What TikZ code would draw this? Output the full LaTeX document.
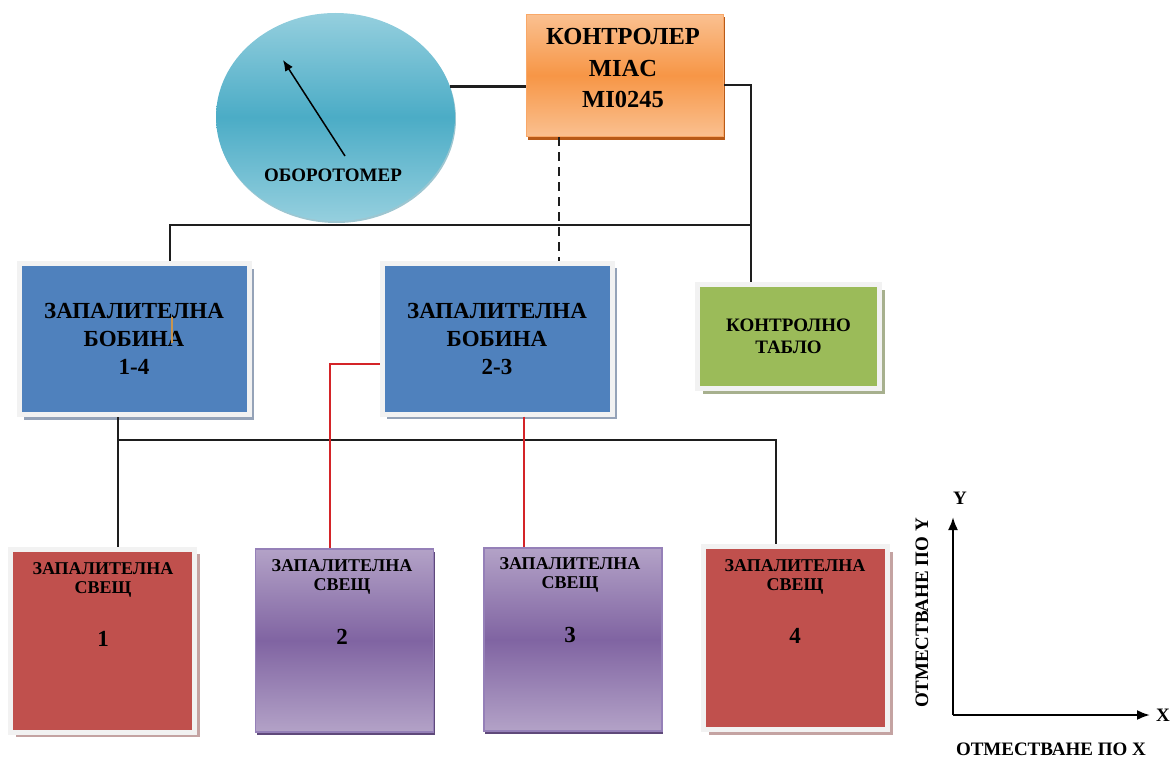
\documentclass[tikz,border=0pt]{standalone}
\usepackage{fontspec}
\setmainfont{Liberation Serif}
\usetikzlibrary{shapes.geometric,shadows,arrows.meta,calc}
\definecolor{coilblue}{HTML}{4F81BD}
\definecolor{edgegray}{HTML}{F2F2F2}
\definecolor{coilshadow}{HTML}{95A3B8}
\definecolor{tablegreen}{HTML}{9BBB59}
\definecolor{tableshadow}{HTML}{A7B08E}
\definecolor{sparkred}{HTML}{C0504D}
\definecolor{redshadow}{HTML}{C4A3A2}
\definecolor{purplelight}{HTML}{B3A2C7}
\definecolor{purplemid}{HTML}{8064A2}
\definecolor{purpleedge}{HTML}{9580B8}
\definecolor{purpleshadow}{HTML}{5F497A}
\definecolor{orangelight}{HTML}{FAC090}
\definecolor{orangemid}{HTML}{F79646}
\definecolor{orangeedge}{HTML}{F9A868}
\definecolor{orangeshadow}{HTML}{B85A18}
\definecolor{teallight}{HTML}{95CFDE}
\definecolor{tealmid}{HTML}{4BACC6}
\definecolor{tealshadow}{HTML}{3C8EA3}
\definecolor{wirered}{HTML}{D42428}
\definecolor{wireblack}{HTML}{1E1E1E}
\definecolor{cursorbrown}{HTML}{C8954F}
\begin{document}
\begin{tikzpicture}[x=1pt,y=-1pt,
  box/.style={rectangle, inner sep=0pt, align=center, font=\bfseries},
  coil/.style={box, fill=coilblue, draw=edgegray, line width=5pt,
    minimum width=230pt, minimum height=151pt,
    drop shadow={shadow xshift=5pt, shadow yshift=-5pt, fill=coilshadow, opacity=1},
    font=\bfseries\fontsize{23}{28}\selectfont},
  ctrlbox/.style={box, top color=orangelight, bottom color=orangelight, middle color=orangemid,
    draw=orangeedge, line width=1pt, minimum width=197pt, minimum height=122pt,
    drop shadow={shadow xshift=1pt, shadow yshift=-3pt, fill=orangeshadow, opacity=1}},
  tablebox/.style={box, fill=tablegreen, draw=edgegray, line width=5pt,
    minimum width=182pt, minimum height=104pt,
    drop shadow={shadow xshift=5pt, shadow yshift=-5pt, fill=tableshadow, opacity=1},
    font=\bfseries\fontsize{19}{22}\selectfont},
  redspark/.style={box, fill=sparkred, draw=edgegray, line width=5pt,
    minimum width=184pt, minimum height=183pt,
    drop shadow={shadow xshift=5pt, shadow yshift=-5pt, fill=redshadow, opacity=1}},
  purplespark/.style={box, top color=purplelight, bottom color=purplelight, middle color=purplemid,
    draw=purpleedge, line width=1.5pt, minimum width=178pt, minimum height=183pt,
    drop shadow={shadow xshift=1pt, shadow yshift=-3pt, fill=purpleshadow, opacity=1}},
  gauge/.style={ellipse, inner sep=0pt, minimum width=239pt, minimum height=208pt,
    top color=teallight, bottom color=teallight, middle color=tealmid,
    drop shadow={shadow xshift=1pt, shadow yshift=-2pt, fill=tealshadow, opacity=0.5}},
  sparktxt/.style={font=\bfseries\fontsize{18}{19}\selectfont, align=center, inner sep=0pt},
  numtxt/.style={font=\bfseries\fontsize{23}{24}\selectfont, inner sep=0pt},
  lbl/.style={font=\bfseries\fontsize{19}{22}\selectfont, inner sep=0pt},
  ctrltxt/.style={font=\bfseries\fontsize{24.5}{31.5}\selectfont, align=center, inner sep=0pt},
  conn/.style={draw=wireblack, line width=2.4pt},
  redconn/.style={draw=wirered, line width=2.2pt},
  axis/.style={draw=black, line width=2.2pt, -{Latex[length=13pt,width=10pt]}}
]
\useasboundingbox (0,0) rectangle (1172,760);

% gauge
\node[gauge] (oe) at (335.5,117) {};
\coordinate (needleBase) at (345,156);
\coordinate (needleTip) at (283,60);
\draw[line width=1.5pt, -{Latex[length=11pt,width=9pt]}] (needleBase) -- (needleTip);
\node[lbl] (oet) at (333,175) {ОБОРОТОМЕР};

% controller
\node[ctrlbox] (ctrl) at (625,75.5) {};
\node[ctrltxt] (ctrlt) at (623,68.5) {КОНТРОЛЕР\\MIAC\\MI0245};

% coils
\node[coil] (c14) at (134,339) {ЗАПАЛИТЕЛНА\\БОБИНА\\1-4};
\node[coil] (c23) at (497,338.5) {ЗАПАЛИТЕЛНА\\БОБИНА\\2-3};
\coordinate (curA) at (172,317);
\coordinate (curB) at (172,343);
\draw[draw=cursorbrown, line width=2pt] (curA) -- (curB);

% control table
\node[tablebox] (tab) at (788.5,336.5) {КОНТРОЛНО\\ТАБЛО};

% spark plugs
\node[redspark] (s1) at (102.5,640.5) {};
\node[purplespark] (s2) at (344.5,640.5) {};
\node[purplespark] (s3) at (573,639.5) {};
\node[redspark] (s4) at (795.5,638) {};
\node[sparktxt] (s1t) at (103,579.5) {ЗАПАЛИТЕЛНА\\СВЕЩ};
\node[numtxt] (s1n) at (103,639) {1};
\node[sparktxt] (s2t) at (342,577) {ЗАПАЛИТЕЛНА\\СВЕЩ};
\node[numtxt] (s2n) at (342,637) {2};
\node[sparktxt] (s3t) at (570,575) {ЗАПАЛИТЕЛНА\\СВЕЩ};
\node[numtxt] (s3n) at (570,635) {3};
\node[sparktxt] (s4t) at (795,577) {ЗАПАЛИТЕЛНА\\СВЕЩ};
\node[numtxt] (s4n) at (795,636) {4};

% connectors top
\coordinate (rj) at (751,85);
\coordinate (hj) at (751,225);
\coordinate (t1) at (170,225);
\coordinate (dj) at (559,0);
\draw[conn] (oe.15.7) -- (ctrl.west |- oe.15.7);
\draw[conn] (ctrl.east |- rj) -- (rj) -- (rj |- tab.north);
\draw[conn] (hj) -- (t1) -- (t1 |- c14.north);
\draw[conn, line width=2.2pt, dash pattern=on 9pt off 6pt] (dj |- ctrl.south) -- (dj |- c23.north);

% connectors bottom
\coordinate (bl) at (118,440);
\coordinate (br) at (776,440);
\draw[conn] (bl |- c14.south) -- (bl |- s1.north);
\draw[conn] (bl) -- (br) -- (br |- s4.north);
\coordinate (rl) at (330,364);
\coordinate (rr) at (524,0);
\draw[redconn] (c23.west |- rl) -- (rl) -- (rl |- s2.north);
\draw[redconn] (rr |- c23.south) -- (rr |- s3.north);

% axes
\coordinate (org) at (953,715);
\coordinate (ytip) at (953,517);
\coordinate (xtip) at (1150,715);
\draw[axis] (org) -- (ytip);
\draw[axis] (org) -- (xtip);
\node[lbl] (ylab) at (960,498) {Y};
\node[lbl] (xlab) at (1163,715) {X};
\node[lbl, rotate=90] (ytxt) at (922,613) {ОТМЕСТВАНЕ ПО Y};
\node[lbl] (xtxt) at (1051,749) {ОТМЕСТВАНЕ ПО X};
\end{tikzpicture}
\end{document}
